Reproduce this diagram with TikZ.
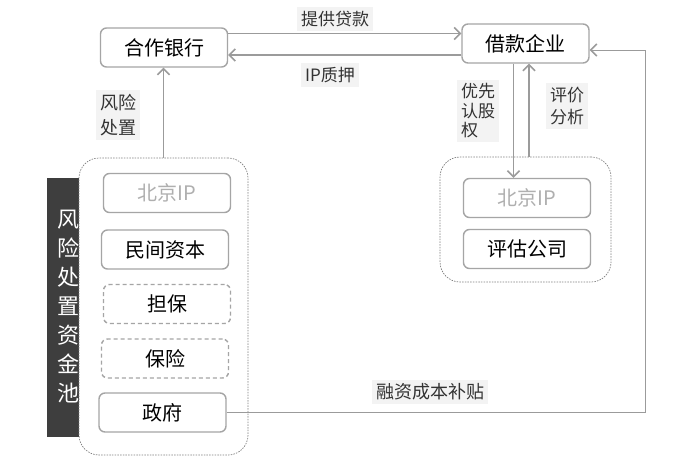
\documentclass[tikz,border=0pt]{standalone}
\usepackage{fontspec}
\setmainfont{Noto Sans CJK SC}
\usetikzlibrary{positioning,arrows.meta}
\definecolor{boxgray}{RGB}{165,165,165}
\definecolor{linegray}{RGB}{155,155,155}
\definecolor{labelbg}{RGB}{243,243,243}
\definecolor{bardark}{RGB}{62,62,62}
\definecolor{iptext}{RGB}{175,175,175}

\begin{document}
\begin{tikzpicture}[x=1pt,y=-1pt,
  box/.style={draw=boxgray, line width=1.4pt, rounded corners=6pt, fill=white,
    minimum width=127pt, minimum height=39pt, inner sep=0pt,
    font=\fontsize{20}{20}\selectfont},
  dashbox/.style={box, dash pattern=on 4pt off 3pt},
  pool/.style={draw=gray, line width=0.7pt, dash pattern=on 1.5pt off 1.2pt,
    rounded corners=20pt, fill=white, inner sep=0pt},
  lbl/.style={fill=labelbg, inner sep=4pt, text=black!80,
    font=\fontsize{17}{20}\selectfont},
  conn/.style={draw=linegray, line width=1.8pt,
    -{Straight Barb[length=6pt,width=12pt,line width=1.6pt]}}]
	%% page size
	\useasboundingbox (0,0) rectangle (678,474);

	% dark bar behind the left pool
	\fill[bardark] (47,178) rectangle (92,437);
	\node[text=white, align=center, font=\fontsize{22}{29}\selectfont]
	  (bartext) at (68,306.5) {风\\险\\处\\置\\资\\金\\池};

	% the two pools
	\node[pool, minimum width=169pt, minimum height=297pt] (leftpool) at (163.5,306.5) {};
	\node[pool, minimum width=171pt, minimum height=125pt] (rightpool) at (525.5,219.5) {};

	% top boxes
	\node[box] (bank) at (164,47.5) {合作银行};
	\node[box] (ent) at (525.5,43.5) {借款企业};

	% boxes in the left pool
	\node[box, text=iptext] (ipL) at (167,193) {北京IP};
	\node[box] (capital) at (165,249.5) {民间资本};
	\node[dashbox] (guar) at (167,304) {担保};
	\node[dashbox] (insur) at (165,358.5) {保险};
	\node[box] (gov) at (162.5,412.5) {政府};

	% boxes in the right pool
	\node[box, text=iptext] (ipR) at (527,198) {北京IP};
	\node[box] (assess) at (527,249) {评估公司};

	% labels
	\node[lbl] (loanlbl) at (335,19) {提供贷款};
	\node[lbl] (iplbl) at (330,75) {IP质押};
	\node[lbl, align=center, font=\fontsize{18}{25}\selectfont] (risklbl) at (118,115) {风险\\处置};
	\node[lbl, align=left, font=\fontsize{17}{19.5}\selectfont] (eqlbl) at (478,111) {优先\\认股\\权};
	\node[lbl, align=left, font=\fontsize{17}{22}\selectfont] (evallbl) at (567,106) {评价\\分析};
	\node[lbl, font=\fontsize{18}{20}\selectfont] (sublbl) at (430,392) {融资成本补贴};

	% anchor points for the connectors
	\coordinate (loanS) at ([yshift=14pt]bank.east);
	\coordinate (ipS) at ([yshift=-11.5pt]ent.west);
	\coordinate (eqS) at ([xshift=-12pt]ent.south);
	\coordinate (evS) at ([xshift=3.5pt]rightpool.north);
	\coordinate (subT) at ([yshift=-6.5pt]ent.east);
	\coordinate (turn) at (645,0);

	\begin{scope}[every path/.style={conn}]
	  \draw (loanS) -- (loanS -| ent.west);
	  \draw (ipS) -- (ipS -| bank.east);
	  \draw (leftpool.north) -- (leftpool.north |- bank.south);
	  \draw (eqS) -- (eqS |- ipR.north);
	  \draw (evS) -- (evS |- ent.south);
	\end{scope}
	\draw[conn, line width=0.9pt] (gov.east) -| (turn |- subT) -- (subT);
\end{tikzpicture}
\end{document}
